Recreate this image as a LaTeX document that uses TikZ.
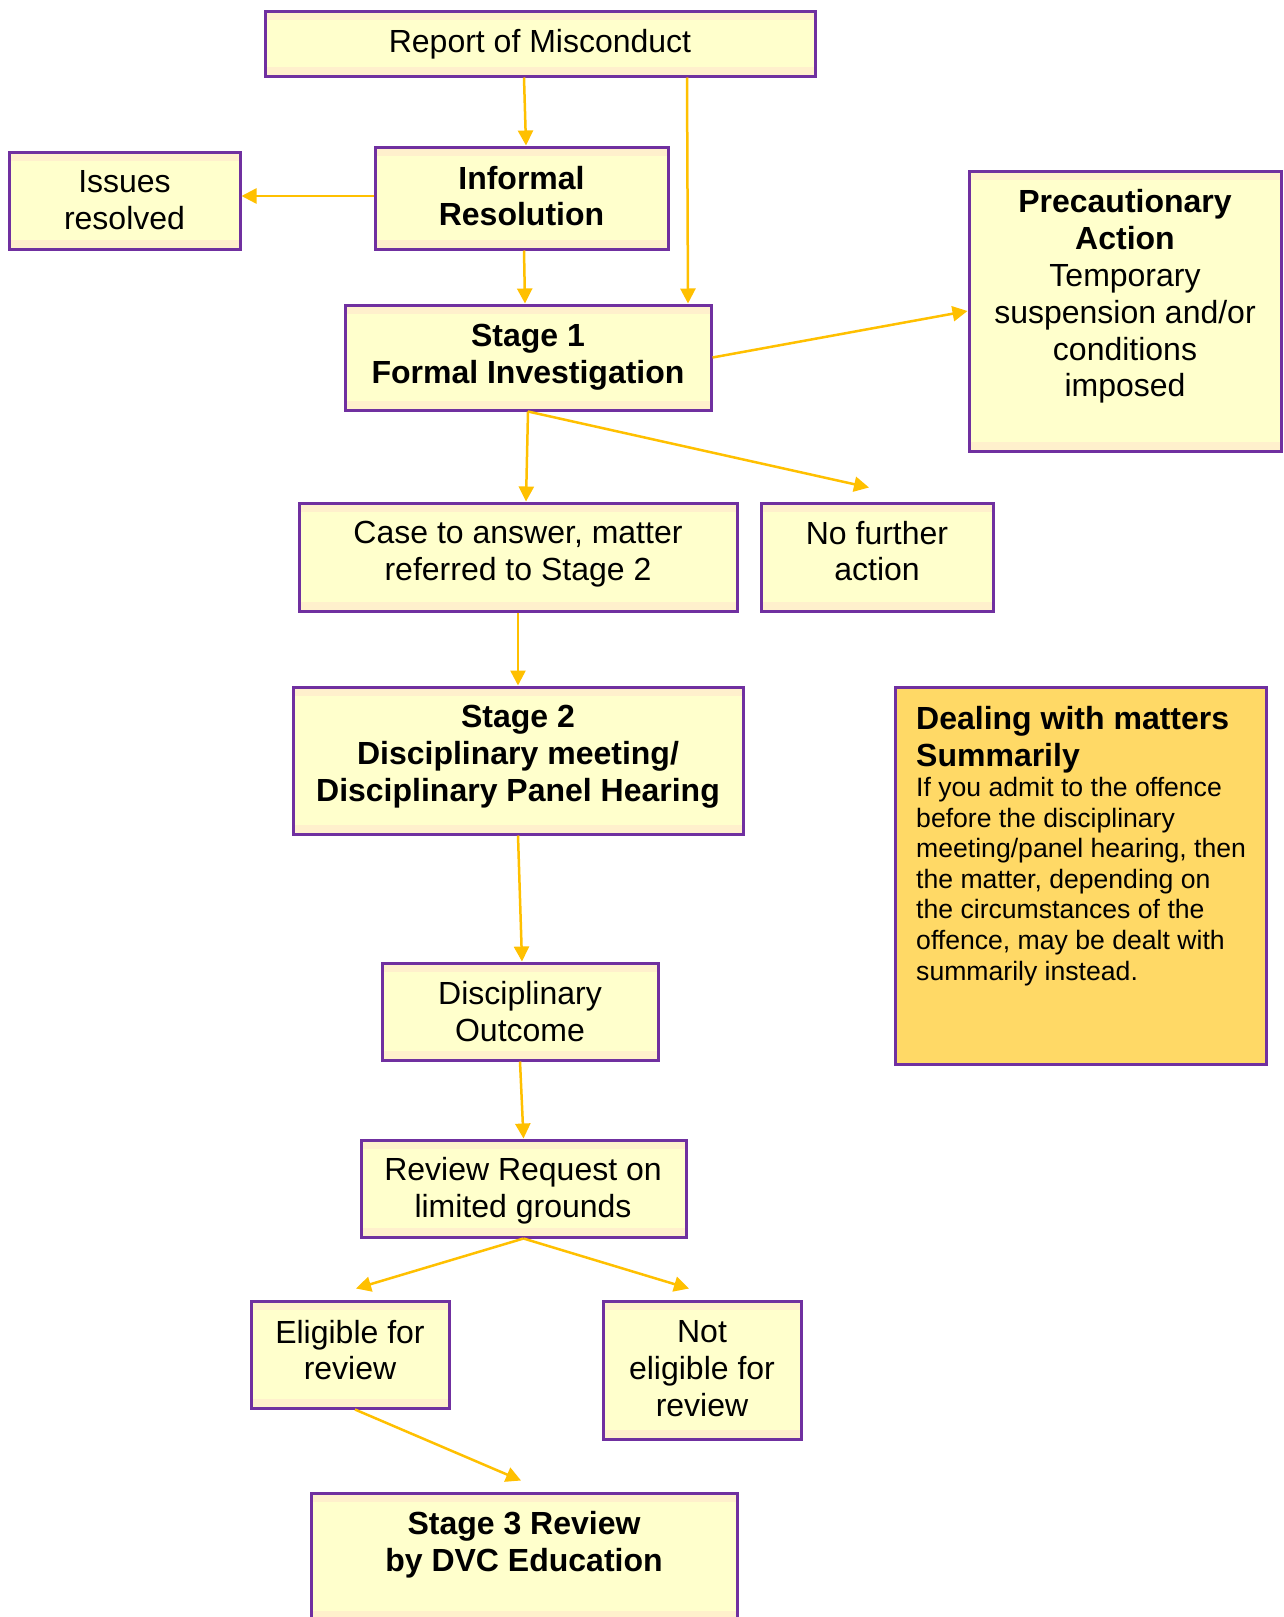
\documentclass[tikz,border=0pt]{standalone}
\usepackage{fontspec}
\setmainfont{Liberation Sans}
\usetikzlibrary{arrows.meta,calc}
\definecolor{bpurple}{HTML}{7030A0}
\definecolor{bfill}{HTML}{FFFFCC}
\definecolor{bband}{HTML}{FFF0CC}
\definecolor{arr}{HTML}{FFC000}
\definecolor{gold}{HTML}{FFD966}
\begin{document}
\begin{tikzpicture}[x=1pt,y=1pt,
 box/.style={draw=bpurple, line width=3pt, fill=bfill, inner sep=0pt,
   path picture={
     \fill[bband] ([yshift=-9pt]path picture bounding box.north west) rectangle (path picture bounding box.north east);
     \fill[bband] (path picture bounding box.south west) rectangle ([yshift=9pt]path picture bounding box.south east);}},
 goldbox/.style={draw=bpurple, line width=3pt, fill=gold, inner sep=0pt},
 txt/.style={align=center, inner sep=0pt, font=\fontsize{32}{36.8}\selectfont},
 btxt/.style={txt, font=\fontsize{32}{36.8}\selectfont\bfseries},
 flow/.style={draw=arr, line width=2.5pt, -{Triangle[length=15pt,width=15pt]}}
]
\useasboundingbox (0,0) rectangle (1284,-1617);
\fill[white] (0,0) rectangle (1284,-1617);

% boxes
\node[box, minimum width=550pt, minimum height=65pt] (rep) at (540,-43.5) {};
\node[box, minimum width=293pt, minimum height=102pt] (inf) at (521.5,-198) {};
\node[box, minimum width=231pt, minimum height=97pt] (iss) at (124.5,-200.5) {};
\node[box, minimum width=366pt, minimum height=105pt] (s1) at (528,-357.5) {};
\node[box, minimum width=312pt, minimum height=280pt] (pre) at (1125,-311) {};
\node[box, minimum width=438pt, minimum height=108pt] (case) at (518,-557) {};
\node[box, minimum width=232pt, minimum height=108pt] (nfa) at (877,-557) {};
\node[box, minimum width=450pt, minimum height=147pt] (s2) at (518,-760.5) {};
\node[goldbox, minimum width=371pt, minimum height=377pt] (deal) at (1080.5,-875.5) {};
\node[box, minimum width=276pt, minimum height=97pt] (out) at (520,-1011.5) {};
\node[box, minimum width=325pt, minimum height=97pt] (rev) at (523.5,-1188.5) {};
\node[box, minimum width=198pt, minimum height=107pt] (eli) at (350,-1354.5) {};
\node[box, minimum width=198pt, minimum height=138pt] (not) at (702,-1370) {};
\node[box, minimum width=426pt, minimum height=127pt] (s3) at (524,-1556.5) {};

% texts
\node[txt] (trep) at (540,-44) {Report of Misconduct};
\node[btxt] (tinf) at (521.5,-196) {Informal\\Resolution};
\node[txt] (tiss) at (124.5,-200) {Issues\\resolved};
\node[btxt] (ts1) at (528,-357) {Stage 1\\Formal Investigation};
\node[txt, anchor=north] (tpre) at (1125,-189.5) {\textbf{Precautionary}\\\textbf{Action}\\Temporary\\suspension and/or\\conditions\\imposed};
\node[txt] (tcase) at (518,-554) {Case to answer, matter\\referred to Stage 2};
\node[txt] (tnfa) at (877,-551) {No further\\action};
\node[btxt] (ts2) at (518,-756.5) {Stage 2\\Disciplinary meeting/\\Disciplinary Panel Hearing};
\node[btxt, align=left, anchor=north west] (tdealh) at (916,-706.5) {Dealing with matters\\Summarily};
\node[txt, align=left, anchor=north west, font=\fontsize{26.6}{30.6}\selectfont] (tdealb) at (916,-777) {If you admit to the offence\\before the disciplinary\\meeting/panel hearing, then\\the matter, depending on\\the circumstances of the\\offence, may be dealt with\\summarily instead.};
\node[txt] (tout) at (520,-1011.5) {Disciplinary\\Outcome};
\node[txt] (trev) at (523,-1191) {Review Request on\\limited grounds};
\node[txt] (teli) at (350,-1350) {Eligible for\\review};
\node[txt] (tnot) at (702,-1368.5) {Not\\eligible for\\review};
\node[btxt, anchor=north] (ts3) at (524,-1511.5) {Stage 3 Review\\by DVC Education};

% connectors
\draw[flow] ([xshift=-16pt]rep.south) -- ([xshift=4.5pt]inf.north);
\draw[flow] ([xshift=147pt]rep.south) -- ([xshift=160pt]s1.north);
\draw[flow] ([yshift=2pt]inf.west) -- ([yshift=2pt]inf.west -| iss.east);
\draw[flow] ([xshift=2.5pt]inf.south) -- ([xshift=-3pt]s1.north);
\draw[flow] (s1.east) -- (pre.west);
\draw[flow] (s1.south) -- ([xshift=8pt]case.north);
\draw[flow] (s1.south) -- ([xshift=-8pt,yshift=14pt]nfa.north);
\draw[flow] (case.south) -- (s2.north);
\draw[flow] (s2.south) -- ([xshift=2pt]out.north);
\draw[flow] (out.south) -- (rev.north);
\draw[flow] (rev.south) -- ([xshift=6pt,yshift=11pt]eli.north);
\draw[flow] (rev.south) -- ([xshift=-13pt,yshift=11pt]not.north);
\draw[flow] ([xshift=5pt]eli.south) -- ([xshift=-3pt,yshift=11pt]s3.north);
\end{tikzpicture}
\end{document}
